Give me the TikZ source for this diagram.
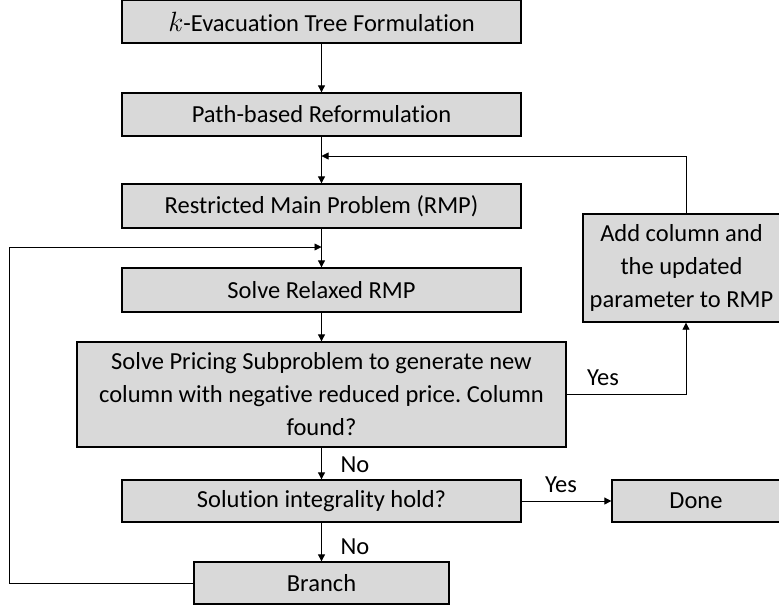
\documentclass[tikz,border=0pt]{standalone}
\usepackage{fontspec}
\setmainfont{Carlito}[Ligatures={NoCommon}]
\usetikzlibrary{arrows.meta}
\frenchspacing
\begin{document}
\begin{tikzpicture}[x=1pt,y=-1pt,
  every node/.style={font=\fontsize{24.5}{33}\selectfont},
  box/.style={draw=black, line width=1.3pt, fill=boxgray, rectangle, inner sep=0pt, align=center},
  conn/.style={draw=black, line width=0.8pt, -{Triangle[length=7pt,width=7pt]}},
  lbl/.style={inner sep=0pt}]
\definecolor{boxgray}{HTML}{D9D9D9}
\useasboundingbox (0,0) rectangle (779,606);
\clip (0,0) rectangle (779,606);

% main column
\node[box, minimum width=399pt, minimum height=43pt] (tree) at (321.5,21.5) {\scalebox{1.12}{$k$}-Evacuation Tree Formulation};
\node[box, minimum width=399pt, minimum height=43pt] (path) at (321.5,114.5) {Path-based Reformulation};
\node[box, minimum width=399pt, minimum height=44pt] (rmp) at (321.5,206) {Restricted Main Problem (RMP)};
\node[box, minimum width=399pt, minimum height=44pt] (relax) at (321.5,290) {Solve Relaxed RMP};
\node[box, minimum width=489pt, minimum height=105pt] (price) at (321.5,394.5) {Solve Pricing Subproblem to generate new\\column with negative reduced price. Column\\found?};
\node[box, minimum width=399pt, minimum height=42pt] (integ) at (321.5,501) {Solution integrality hold?};
\node[box, minimum width=255pt, minimum height=42pt] (branch) at (321.5,583) {Branch};

% side boxes
\node[box, minimum width=197pt, minimum height=108pt] (addcol) at (681.5,268) {Add column and\\the updated\\parameter to RMP};
\node[box, minimum width=168pt, minimum height=42pt] (done) at (696,501) {Done};

% junction points
\coordinate (fbin) at (321.5,156);
\coordinate (brin) at (321.5,247);
\coordinate (upR) at (686,156);
\coordinate (yesR) at (686,394.5);
\coordinate (loopT) at (9,247);
\coordinate (loopB) at (9,583);

% connectors
\draw[conn] (tree.south) -- (path.north);
\draw[conn] (path.south) -- (rmp.north);
\draw[conn] (rmp.south) -- (relax.north);
\draw[conn] (relax.south) -- (price.north);
\draw[conn] (price.south) -- (integ.north);
\draw[conn] (integ.south) -- (branch.north);
\draw[conn] (integ.east) -- (done.west);
\draw[conn] (price.east) -- (yesR) -- (addcol.south -| yesR);
\draw[conn] (addcol.north -| upR) -- (upR) -- (fbin);
\draw[conn] (branch.west) -- (loopB) -- (loopT) -- (brin);

% labels
\node[lbl] (yes1) at (603,378) {Yes};
\node[lbl] (no1) at (355,465) {No};
\node[lbl] (yes2) at (561,485) {Yes};
\node[lbl] (no2) at (355,547) {No};
\end{tikzpicture}
\end{document}
